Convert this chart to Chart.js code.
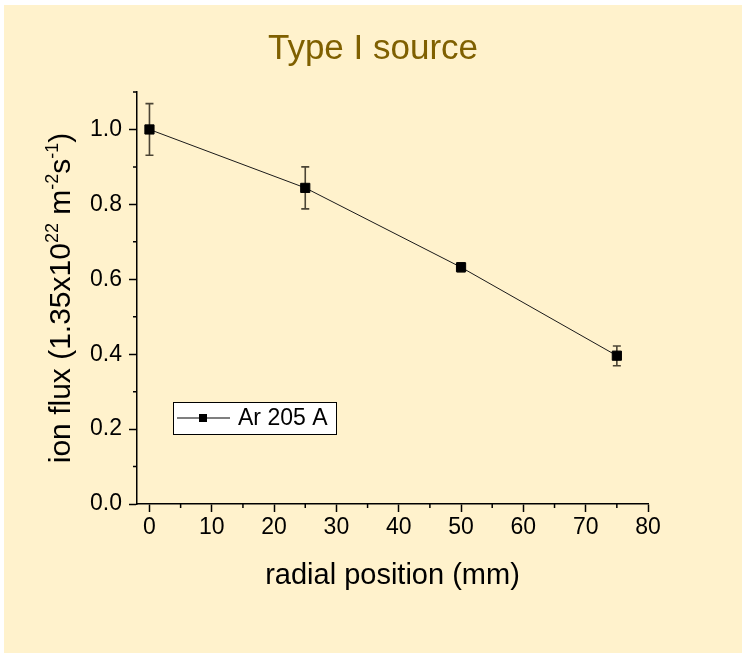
<!DOCTYPE html>
<html>
<head>
<meta charset="utf-8">
<script src="https://cdn.jsdelivr.net/npm/chart.js@4.4.0/dist/chart.umd.min.js"></script>
<style>
  html, body { margin: 0; padding: 0; background: #fff; }
</style>
</head>
<body>
<canvas id="flux" width="746" height="657"></canvas>
<script>
// radial position (mm) vs normalised ion flux
var positions = [0, 25, 50, 75];
var flux = [1.0, 0.844, 0.632, 0.396];
var fluxErrUp = [0.069, 0.056, 0.012, 0.026];
var fluxErrDown = [0.069, 0.056, 0.012, 0.027];
var seriesName = 'Ar 205 A';
var chartTitle = 'Type I source';
var xTitle = 'radial position (mm)';
// [text, superscript?]
var yTitleParts = [['ion flux (1.35x10', false], ['22', true], [' m', false], ['-2', true], ['s', false], ['-1', true], [')', false]];
var xTickLabels = [0, 10, 20, 30, 40, 50, 60, 70, 80];
var yTickLabels = [0.0, 0.2, 0.4, 0.6, 0.8, 1.0];

Chart.defaults.font.family = '"Liberation Sans", Arial, sans-serif';

function isMajorY(v) {
    return yTickLabels.some(t => Math.abs(t - v) < 1e-6);
}

// cream page background
const bgPlugin = {
    id: 'bg',
    beforeDraw(chart) {
        const c = chart.ctx;
        c.save();
        c.fillStyle = '#FFF2CC';
        c.fillRect(4, 5, chart.width - 8, chart.height - 9);
        c.restore();
    }
};

// vertical error bars with caps
const errorBars = {
    id: 'errorBars',
    beforeDatasetsDraw(chart) {
        const c = chart.ctx;
        const y = chart.scales.y;
        const meta = chart.getDatasetMeta(0);
        c.save();
        c.strokeStyle = 'rgba(30,25,15,0.8)';
        c.lineWidth = 1.6;
        meta.data.forEach((pt, i) => {
            const top = y.getPixelForValue(flux[i] + fluxErrUp[i]);
            const bot = y.getPixelForValue(flux[i] - fluxErrDown[i]);
            c.beginPath();
            c.moveTo(pt.x, top); c.lineTo(pt.x, bot);
            c.moveTo(pt.x - 4, top); c.lineTo(pt.x + 4, top);
            c.moveTo(pt.x - 4, bot); c.lineTo(pt.x + 4, bot);
            c.stroke();
        });
        c.restore();
    }
};

// short minor ticks
const minorTicks = {
    id: 'minorTicks',
    afterDraw(chart) {
        const c = chart.ctx;
        const x = chart.scales.x, y = chart.scales.y;
        c.save();
        c.strokeStyle = '#000';
        c.lineWidth = 1.5;
        c.beginPath();
        x.ticks.forEach(t => {
            if (!xTickLabels.includes(t.value)) {
                const px = x.getPixelForValue(t.value);
                c.moveTo(px, x.top); c.lineTo(px, x.top + 4);
            }
        });
        y.ticks.forEach(t => {
            if (!isMajorY(t.value)) {
                const py = y.getPixelForValue(t.value);
                c.moveTo(y.right - 4, py); c.lineTo(y.right, py);
            }
        });
        c.stroke();
        c.restore();
    }
};

// y title with superscripts
const yTitlePlugin = {
    id: 'yTitle',
    afterDraw(chart) {
        const c = chart.ctx;
        const a = chart.chartArea;
        const big = 30, small = 18;
        c.save();
        let total = 0;
        yTitleParts.forEach(p => {
            c.font = (p[1] ? small : big) + 'px "Liberation Sans", Arial, sans-serif';
            total += c.measureText(p[0]).width;
        });
        c.translate(70, (a.top + a.bottom) / 2);
        c.rotate(-Math.PI / 2);
        c.fillStyle = '#000';
        c.textAlign = 'left';
        c.textBaseline = 'alphabetic';
        let pos = -total / 2;
        yTitleParts.forEach(p => {
            c.font = (p[1] ? small : big) + 'px "Liberation Sans", Arial, sans-serif';
            c.fillText(p[0], pos, p[1] ? -12 : 0);
            pos += c.measureText(p[0]).width;
        });
        c.restore();
    }
};

// boxed legend inside the plot
const boxLegend = {
    id: 'boxLegend',
    afterDraw(chart) {
        const c = chart.ctx;
        const a = chart.chartArea;
        const ds = chart.data.datasets[0];
        const bx = a.left + 36, by = a.top + 310, bw = 163, bh = 32;
        const my = by + bh / 2;
        c.save();
        c.fillStyle = '#fff';
        c.fillRect(bx, by, bw, bh);
        c.strokeStyle = '#000';
        c.lineWidth = 1;
        c.strokeRect(bx + 0.5, by + 0.5, bw, bh);
        c.strokeStyle = '#555';
        c.lineWidth = 1.5;
        c.beginPath();
        c.moveTo(bx + 4, my); c.lineTo(bx + 57, my);
        c.stroke();
        c.fillStyle = '#000';
        c.fillRect(bx + 26, my - 4, 8, 8);
        c.font = '23px "Liberation Sans", Arial, sans-serif';
        c.textBaseline = 'middle';
        c.fillText(ds.label, bx + 65, my + 1);
        c.restore();
    }
};

const ctxFlux = document.getElementById('flux');
const fluxChart = new Chart(ctxFlux, {
    type: 'line',
    data: {
        datasets: [{
            label: seriesName,
            data: positions.map((p, i) => ({ x: p, y: flux[i] })),
            borderColor: '#1a1a1a',
            borderWidth: 1,
            pointStyle: 'rect',
            pointRadius: 6.5,
            pointBackgroundColor: '#000',
            pointBorderColor: '#000',
            pointBorderWidth: 1,
            tension: 0
        }]
    },
    options: {
        responsive: false,
        animation: false,
        devicePixelRatio: 1,
        plugins: {
            legend: { display: false },
            tooltip: { enabled: false },
            title: {
                display: true,
                text: chartTitle,
                color: '#7F6000',
                font: { size: 35, weight: 'normal' },
                padding: { top: 28, bottom: 22 }
            }
        },
        scales: {
            x: {
                type: 'linear',
                min: -2,
                max: 80,
                ticks: {
                    stepSize: 5,
                    includeBounds: false,
                    autoSkip: false,
                    maxRotation: 0,
                    color: '#000',
                    font: { size: 23 },
                    padding: 2,
                    callback: v => xTickLabels.includes(v) ? String(v) : ''
                },
                grid: {
                    drawOnChartArea: false,
                    tickLength: 8,
                    tickWidth: 1.5,
                    tickColor: c => xTickLabels.includes(c.tick.value) ? '#000' : 'rgba(0,0,0,0)'
                },
                border: { color: '#000', width: 1.5 },
                title: {
                    display: true,
                    text: xTitle,
                    color: '#000',
                    font: { size: 29 },
                    padding: { top: 0, bottom: 64 }
                },
                afterFit: s => { s.height = 153; s.paddingRight = 98; }
            },
            y: {
                type: 'linear',
                min: 0,
                max: 1.1,
                ticks: {
                    stepSize: 0.1,
                    includeBounds: false,
                    autoSkip: false,
                    color: '#000',
                    font: { size: 23 },
                    padding: 7,
                    callback: v => isMajorY(v) ? Number(v).toFixed(1) : ''
                },
                grid: {
                    drawOnChartArea: false,
                    tickLength: 8,
                    tickWidth: 1.5,
                    tickColor: c => isMajorY(c.tick.value) ? '#000' : 'rgba(0,0,0,0)'
                },
                border: { color: '#000', width: 1.5 },
                afterFit: s => { s.width = 137; }
            }
        }
    },
    plugins: [bgPlugin, errorBars, minorTicks, yTitlePlugin, boxLegend]
});
</script>
</body>
</html>
